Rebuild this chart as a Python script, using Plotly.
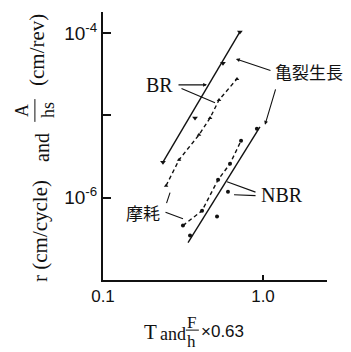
import plotly.graph_objects as go

# ---- data -------------------------------------------------------------
# BR: crack growth rate r (solid) and abrasion rate A/hs (dashed)
br_crack_x = [0.237, 0.376, 0.562, 0.717]
br_crack_y = [2.7e-6, 9.3e-6, 4.3e-5, 1.03e-4]
br_crack_fit_x = [0.237, 0.717]
br_crack_fit_y = [2.7e-6, 1.03e-4]

br_wear_x = [0.248, 0.299, 0.398, 0.467, 0.531, 0.688]
br_wear_y = [1.40e-6, 2.89e-6, 5.8e-6, 9.3e-6, 1.54e-5, 2.77e-5]

# NBR: crack growth rate r (solid) and abrasion rate A/hs (dashed)
nbr_crack_x = [0.350, 0.516, 0.604, 0.916]
nbr_crack_y = [3.46e-7, 5.89e-7, 1.18e-6, 6.86e-6]
nbr_crack_fit_x = [0.340, 0.957]
nbr_crack_fit_y = [2.85e-7, 7.26e-6]

nbr_wear_x = [0.316, 0.416, 0.524, 0.622, 0.729]
nbr_wear_y = [4.58e-7, 6.95e-7, 1.65e-6, 2.58e-6, 4.91e-6]

x_tickvals = [0.1, 1.0]
x_ticktext = ["0.1", "1.0"]
y_tickvals = [1e-6, 1e-5, 1e-4]
y_ticktext = ["10<sup>-6</sup>", " ", "10<sup>-4</sup>"]

# ---- figure -----------------------------------------------------------
SERIF = "Liberation Serif"
SANS = "Liberation Sans"
CJK = "Noto Sans CJK JP"
INK = "#111111"

fig = go.Figure()

# fitted crack-growth lines
fig.add_trace(go.Scatter(x=br_crack_fit_x, y=br_crack_fit_y, mode="lines",
                         line=dict(color=INK, width=1.4)))
fig.add_trace(go.Scatter(x=nbr_crack_fit_x, y=nbr_crack_fit_y, mode="lines",
                         line=dict(color=INK, width=1.4)))

# measured crack-growth points
fig.add_trace(go.Scatter(x=br_crack_x, y=br_crack_y, mode="markers",
                         marker=dict(symbol="triangle-down", size=5, color=INK)))
fig.add_trace(go.Scatter(x=nbr_crack_x, y=nbr_crack_y, mode="markers",
                         marker=dict(symbol="circle", size=4, color=INK)))

# abrasion curves
fig.add_trace(go.Scatter(x=br_wear_x, y=br_wear_y, mode="lines+markers",
                         line=dict(color=INK, width=1.4, dash="4px,3px"),
                         marker=dict(symbol="triangle-up", size=4, color=INK)))
fig.add_trace(go.Scatter(x=nbr_wear_x, y=nbr_wear_y, mode="lines+markers",
                         line=dict(color=INK, width=1.4, dash="4px,3px"),
                         marker=dict(symbol="circle", size=4, color=INK)))

annotations = []

# curve labels (positions in log10 axis units)
def label(text, x, y, font, size, anchor):
    annotations.append(dict(text=text, x=x, y=y, xref="x", yref="y",
                            showarrow=False, xanchor=anchor, yanchor="middle",
                            font=dict(family=font, size=size, color=INK)))

label("BR", -0.55, -4.63, SERIF, 20, "right")
label("亀裂生長", 0.0625, -4.473, CJK, 17, "left")
label("NBR", -0.025, -5.964, SERIF, 20, "left")
label("摩耗", -0.631, -6.182, CJK, 17, "right")

# leader lines from labels to curves
def leader(x, y, ax, ay, head=0):
    annotations.append(dict(text="", x=x, y=y, xref="x", yref="y",
                            ax=ax, ay=ay, showarrow=True, arrowhead=head,
                            arrowsize=0.7, arrowwidth=1.1, arrowcolor=INK,
                            standoff=0, startstandoff=0))

leader(-0.35, -4.630, -30, 0, head=2)
leader(-0.30, -4.848, -35, -15)
leader(-0.169, -4.315, 36, 12, head=2)
leader(0.0125, -5.115, 11, -37, head=2)
leader(-0.225, -5.806, 30, 11)
leader(-0.181, -5.964, 23, 1)
leader(-0.50, -6.255, -19, -7)
leader(-0.581, -5.939, -4, 12)

# axis titles built from pieces so the fractions can be stacked
def paper_text(text, x, y, font, size, angle=0):
    annotations.append(dict(text=text, x=x, y=y, xref="paper", yref="paper",
                            showarrow=False, xanchor="center", yanchor="middle",
                            textangle=angle,
                            font=dict(family=font, size=size, color=INK)))

# y title: r (cm/cycle) and A/hs (cm/rev)
paper_text("r (cm/cycle)", -0.281, 0.183, SERIF, 21, -90)
paper_text("and", -0.272, 0.493, SERIF, 20, -90)
paper_text("A", -0.362, 0.634, SERIF, 18, -90)
paper_text("hs", -0.246, 0.634, SERIF, 18, -90)
paper_text("(cm/rev)", -0.295, 0.858, SERIF, 21, -90)

# x title: T and F/h x0.63
paper_text("T", 0.210, -0.194, SERIF, 21)
paper_text("and", 0.313, -0.201, SERIF, 18)
paper_text("F", 0.397, -0.157, SERIF, 17)
paper_text("h", 0.397, -0.231, SERIF, 17)
paper_text("×0.63", 0.532, -0.194, SANS, 17)

shapes = [
    dict(type="line", xref="paper", yref="paper", x0=-0.304, x1=-0.304,
         y0=0.590, y1=0.675, line=dict(color=INK, width=1)),
    dict(type="line", xref="paper", yref="paper", x0=0.370, x1=0.428,
         y0=-0.187, y1=-0.187, line=dict(color=INK, width=1)),
]

fig.update_layout(
    width=351, height=352,
    margin=dict(l=103, r=24, t=12, b=72, pad=0),
    paper_bgcolor="white", plot_bgcolor="white",
    showlegend=False,
    annotations=annotations,
    shapes=shapes,
    xaxis=dict(type="log", range=[-1, 0.4], showline=True, linecolor=INK,
               linewidth=2, ticks="inside", ticklen=5, tickwidth=1.5,
               tickcolor=INK, tickvals=x_tickvals, ticktext=x_ticktext,
               tickfont=dict(family=SANS, size=17, color=INK),
               showgrid=False, zeroline=False),
    yaxis=dict(type="log", range=[-7, -3.745], showline=True, linecolor=INK,
               linewidth=2, ticks="inside", ticklen=8, tickwidth=1.5,
               tickcolor=INK, tickvals=y_tickvals, ticktext=y_ticktext,
               tickfont=dict(family=SANS, size=19, color=INK),
               showgrid=False, zeroline=False),
)

fig.write_html("out.html")
